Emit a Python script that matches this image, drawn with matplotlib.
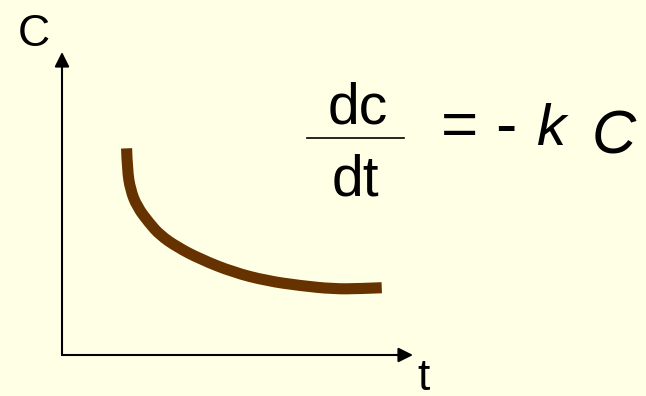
import matplotlib as mpl
mpl.use('Agg')
import matplotlib.pyplot as plt
from matplotlib.path import Path
from matplotlib.patches import PathPatch

# curve (arbitrary units, axes span 0..10)
t_vals = [1.84, 1.86, 1.95, 2.14, 2.49, 2.79, 3.27, 3.93, 4.88, 5.83, 6.78, 7.73, 8.49, 9.11]
c_vals = [6.82, 6.11, 5.45, 4.89, 4.35, 3.96, 3.57, 3.17, 2.73, 2.45, 2.29, 2.18, 2.19, 2.22]

bg = '#FFFFE6'
plt.rcParams['font.family'] = ['Liberation Sans', 'DejaVu Sans']

W, H = 646, 396
fig = plt.figure(figsize=(W / 100, H / 100), dpi=100, facecolor=bg)

# overlay for text placement in pixel coords
ov = fig.add_axes([0, 0, 1, 1])
ov.set_xlim(0, W)
ov.set_ylim(H, 0)
ov.axis('off')

# plot area between the two arrows
x0, y0, x1, y1 = 62, 355, 413, 52
ax = fig.add_axes([x0 / W, (H - y0) / H, (x1 - x0) / W, (y0 - y1) / H])
ax.set_xlim(0, 10)
ax.set_ylim(0, 10)
ax.axis('off')

# smooth curve: quadratic bezier chain, read points as control points
pts = list(zip(t_vals, c_vals))
verts = [pts[0]]
codes = [Path.MOVETO]
for i in range(1, len(pts) - 1):
    mid = ((pts[i][0] + pts[i + 1][0]) / 2, (pts[i][1] + pts[i + 1][1]) / 2)
    if i == len(pts) - 2:
        mid = pts[-1]
    verts += [pts[i], mid]
    codes += [Path.CURVE3, Path.CURVE3]
curve = PathPatch(Path(verts, codes), facecolor='none', edgecolor='#663300', lw=8,
                  capstyle='butt')
ax.add_patch(curve)

arrow = dict(arrowstyle='-|>', color='black', lw=1.5, mutation_scale=22, shrinkA=0, shrinkB=0)
ax.annotate('', xy=(1, 0), xytext=(0, 0), xycoords='axes fraction', arrowprops=arrow,
            annotation_clip=False)
ax.annotate('', xy=(0, 1), xytext=(0, 0), xycoords='axes fraction', arrowprops=arrow,
            annotation_clip=False)

ov.text(34, 46, 'C', fontsize=32, ha='center', va='baseline')
ov.text(424, 390, 't', fontsize=32, ha='center', va='baseline')

# equation
ov.text(358, 123, 'dc', fontsize=41, ha='center', va='baseline')
ov.plot([307, 404], [138, 138], color='black', lw=1.2)
ov.text(355, 195, 'dt', fontsize=41, ha='center', va='baseline')
ov.text(441, 146, '=', fontsize=46, ha='left', va='baseline')
ov.text(495, 146, '-', fontsize=46, ha='left', va='baseline')
ov.text(536, 145, 'k', fontsize=42, ha='left', va='baseline', style='italic')
ov.text(592, 154, 'C', fontsize=44, ha='left', va='baseline', style='italic')

plt.savefig('out.png', dpi=100, facecolor=bg)
